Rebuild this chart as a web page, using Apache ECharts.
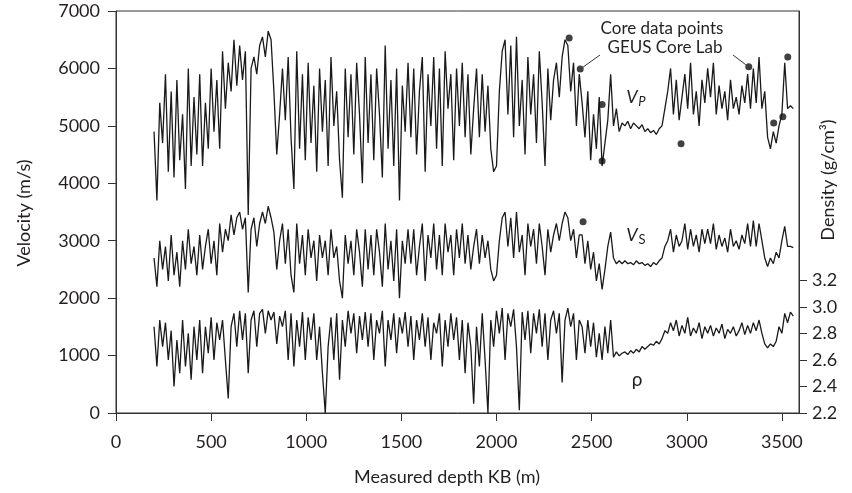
<!DOCTYPE html>
<html>
<head>
<meta charset="utf-8">
<script src="https://cdn.jsdelivr.net/npm/echarts@6/dist/echarts.min.js"></script>
<style>
  html, body { margin: 0; padding: 0; background: #fff; }
  #chart { width: 852px; height: 493px; }
</style>
</head>
<body>
<div id="chart"></div>
<script>
// depth sampling of the logs (m, KB), every 15 m from 200 to 3560
const depthStart = 200;
const depthStep = 15;

// P-wave velocity (m/s), one row = 15 samples
const vp = [
  4900, 3700, 5400, 4700, 5900, 4200, 5600, 4100, 5800, 4400, 5200, 3900, 6000, 4300, 5500,
  4500, 5900, 4300, 5400, 4600, 6000, 4900, 5800, 4600, 6300, 5300, 6100, 5600, 6500, 5700,
  6400, 5800, 6300, 3450, 6000, 6200, 5900, 6400, 6550, 6200, 6650, 6500, 5600, 4500, 5200,
  6000, 5100, 6200, 4800, 3900, 6300, 4600, 5900, 4400, 6100, 4700, 5700, 4200, 6000, 4900,
  5800, 4300, 6200, 5000, 5600, 4400, 3750, 6000, 4800, 5900, 4500, 6100, 5200, 4000, 6200,
  4700, 5900, 4400, 6000, 5200, 4100, 6400, 4600, 5800, 4300, 6000, 3700, 5700, 4900, 6100,
  4800, 6000, 4500, 5600, 6200, 4200, 5900, 5000, 6200, 4600, 6000, 4300, 6300, 5300, 5900,
  4400, 6000, 5000, 6100, 4800, 5900, 4500, 5300, 6000, 4800, 5900, 4900, 5700, 4600, 4200,
  4300, 5600, 6300, 6500, 5200, 6400, 4800, 6550, 5000, 5800, 4500, 6200, 5200, 5900, 4700,
  6300, 5400, 4300, 6000, 5100, 5800, 6100, 5500, 6200, 6500, 6400, 5600, 6100, 5000, 5900,
  5400, 4800, 5600, 4400, 5200, 4600, 5500, 4300, 4700, 5100, 5900, 5000, 5300, 4900, 5050,
  5000, 5080, 4950, 5050, 5000, 4950, 5020, 4900, 4950, 4880, 4920, 4850, 4950, 5000, 5300,
  5600, 6000, 5200, 5800, 5100, 5500, 5900, 5300, 6100, 5200, 5600, 5000, 5800, 5400, 6000,
  5500, 6100, 5200, 5700, 5300, 5600, 5100, 5800, 5300, 5500, 5200, 5700, 5400, 5900, 5300,
  6000, 5400, 6200, 5300, 5600, 4800, 4600, 4900, 4700, 5000, 5200, 6100, 5300, 5350, 5300
];

// S-wave velocity (m/s)
const vs = [
  2700, 2200, 3000, 2500, 2900, 2300, 3100, 2400, 2800, 2200, 3000, 2500, 3200, 2600, 2900,
  2400, 3100, 2500, 2900, 3200, 2600, 3000, 2400, 3300, 2800, 3200, 3000, 3450, 3100, 3400,
  3500, 3200, 3400, 2100, 3200, 3400, 2900, 3300, 3500, 3300, 3600, 3400, 3150, 2500, 3000,
  3300, 2600, 3200, 2400, 2100, 3300, 2600, 3100, 2400, 3200, 2700, 3000, 2300, 3100, 2700,
  3000, 2400, 3200, 2700, 2900, 2300, 2000, 3100, 2600, 3000, 2400, 3200, 2800, 2200, 3200,
  2500, 3100, 2400, 3200, 2800, 2200, 3300, 2500, 3000, 2300, 3200, 2000, 3000, 2600, 3200,
  2600, 3200, 2400, 2900, 3300, 2300, 3100, 2700, 3300, 2500, 3100, 2400, 3300, 2800, 3100,
  2400, 3200, 2700, 3300, 2600, 3100, 2500, 2900, 3200, 2600, 3100, 2700, 3000, 2500, 2300,
  2400, 3000, 3400, 3500, 2900, 3400, 2700, 3500, 2800, 3100, 2400, 3300, 2900, 3200, 2600,
  3300, 2900, 2400, 3200, 2800, 3100, 3300, 3000, 3300, 3500, 3400, 3000, 3200, 2700, 3100,
  3100, 2600, 3000, 2500, 2800, 2300, 2600, 2150, 2500, 2900, 3150, 2700, 2600, 2650, 2600,
  2650, 2600, 2620, 2580, 2650, 2600, 2620, 2570, 2600, 2550, 2620, 2580, 2650, 2700, 2900,
  3000, 3200, 2800, 3100, 2900, 3000, 3300, 2850, 3200, 2900, 3100, 2800, 3200, 2950, 3200,
  2950, 3300, 2850, 3100, 2900, 3050, 2800, 3200, 2900, 3000, 2850, 3100, 2950, 3300, 2900,
  3350, 2900, 3300, 3000, 2700, 2550, 2700, 2600, 2800, 2700, 3000, 3250, 2900, 2900, 2880
];

// bulk density (g/cm3)
const rho = [
  2.85, 2.55, 2.90, 2.70, 2.88, 2.60, 2.82, 2.40, 2.75, 2.50, 2.90, 2.55, 2.80, 2.45, 2.85,
  2.60, 2.90, 2.50, 2.85, 2.65, 2.92, 2.60, 2.88, 2.75, 2.90, 2.60, 2.31, 2.85, 2.95, 2.70,
  2.97, 2.75, 2.95, 2.50, 2.90, 2.97, 2.70, 2.95, 2.98, 2.80, 2.97, 2.90, 2.96, 2.72, 2.93,
  2.85, 2.97, 2.60, 2.95, 2.55, 2.90, 2.70, 2.96, 2.60, 2.92, 2.75, 2.95, 2.60, 2.85, 2.50,
  2.20, 2.70, 2.92, 2.60, 2.95, 2.45, 2.90, 2.70, 2.97, 2.80, 2.95, 2.65, 2.93, 2.75, 2.96,
  2.70, 2.95, 2.60, 2.90, 2.80, 2.97, 2.55, 2.90, 2.75, 2.95, 2.65, 2.92, 2.80, 2.96, 2.70,
  2.93, 2.60, 2.90, 2.75, 2.95, 2.70, 2.92, 2.60, 2.88, 2.80, 2.95, 2.55, 2.90, 2.70, 2.95,
  2.75, 2.92, 2.60, 2.90, 2.50, 2.88, 2.70, 2.27, 2.85, 2.55, 2.95, 2.60, 2.20, 2.90, 2.70,
  2.97, 2.80, 2.99, 2.60, 2.95, 2.85, 2.98, 2.70, 2.22, 2.96, 2.75, 2.97, 2.65, 2.95, 2.80,
  2.98, 2.70, 2.95, 2.60, 2.90, 2.97, 2.80, 2.95, 2.43, 2.90, 2.99, 2.85, 2.95, 2.60, 2.90,
  2.85, 2.65, 2.90, 2.70, 2.88, 2.62, 2.80, 2.60, 2.85, 2.65, 2.90, 2.62, 2.66, 2.63, 2.65,
  2.66, 2.64, 2.67, 2.65, 2.68, 2.66, 2.70, 2.68, 2.70, 2.72, 2.71, 2.74, 2.72, 2.76, 2.82,
  2.80, 2.88, 2.82, 2.90, 2.78, 2.86, 2.80, 2.92, 2.78, 2.84, 2.80, 2.88, 2.76, 2.85, 2.80,
  2.86, 2.78, 2.84, 2.80, 2.87, 2.76, 2.83, 2.80, 2.85, 2.78, 2.82, 2.88, 2.79, 2.86, 2.80,
  2.88, 2.82, 2.90, 2.80, 2.72, 2.69, 2.72, 2.70, 2.74, 2.85, 2.80, 2.95, 2.88, 2.96, 2.93
];

// core plug measurements, GEUS Core Lab
const coreDepth = [2382, 2440, 2555, 2555, 2970, 3326, 3531, 3457, 3505, 2455];
const coreVel   = [6530, 5990, 5370, 4390, 4690, 6030, 6200, 5050, 5160, 3330];

const densTicks = [2.2, 2.4, 2.6, 2.8, 3.0, 3.2];

const depths = vp.map((_, i) => depthStart + i * depthStep);
const ink = '#231f20';
const axisCol = '#333';
const font = 'Lato';
const fs = 18;

const chart = echarts.init(document.getElementById('chart'));

const logLine = (name, vals, yIdx) => ({
	name: name,
	type: 'line',
	yAxisIndex: yIdx,
	data: vals.map((v, i) => [depths[i], v]),
	symbol: 'none',
	lineStyle: {color: '#1a1a1a', width: 1.3},
	z: 2
});

chart.setOption({
	animation: false,
	textStyle: {fontFamily: font, color: ink},
	grid: {left: 116, right: 53, top: 11, bottom: 80, show: true, borderColor: axisCol, borderWidth: 1},
	xAxis: {
		type: 'value', min: 0, max: 3590, interval: 500,
		axisLine: {show: true, lineStyle: {color: axisCol}},
		axisTick: {show: true, length: 8, lineStyle: {color: axisCol}},
		axisLabel: {fontSize: fs, color: ink, margin: 20, showMaxLabel: false, formatter: v => String(v)},
		splitLine: {show: false}
	},
	yAxis: [
		{
			type: 'value', min: 0, max: 7000, interval: 1000, position: 'left',
			axisLine: {show: true, lineStyle: {color: axisCol}},
			axisTick: {show: true, length: 8, lineStyle: {color: axisCol}},
			axisLabel: {fontSize: fs, color: ink, margin: 16, formatter: v => String(v)},
			splitLine: {show: false}
		},
		{
			type: 'value', min: 2.2, max: 5.227, position: 'right',
			axisLine: {show: true, lineStyle: {color: axisCol}},
			axisTick: {show: true, length: 8, customValues: densTicks, lineStyle: {color: axisCol}},
			axisLabel: {fontSize: fs, color: ink, margin: 13, customValues: densTicks, formatter: v => v.toFixed(1)},
			splitLine: {show: false}
		}
	],
	series: [
		logLine('Vp', vp, 0),
		logLine('Vs', vs, 0),
		logLine('rho', rho, 1),
		{
			name: 'core',
			type: 'scatter',
			yAxisIndex: 0,
			data: coreDepth.map((d, i) => [d, coreVel[i]]),
			symbolSize: 7,
			itemStyle: {color: '#111'},
			z: 5
		}
	]
});

// labels and leader lines (leaders end at the core points)
const pA = chart.convertToPixel({seriesIndex: 3}, [coreDepth[1], coreVel[1]]);
const pB = chart.convertToPixel({seriesIndex: 3}, [coreDepth[5], coreVel[5]]);
const txt = (x, y, text, size, extra, rot) => ({
	type: 'text', x: x, y: y, rotation: rot || 0,
	style: Object.assign({text: text, fill: ink, font: size + 'px ' + font, align: 'center', verticalAlign: 'middle'}, extra || {})
});

chart.setOption({
	graphic: [
		txt(24, 213, 'Velocity (m/s)', fs, null, Math.PI / 2),
		txt(828, 180, 'Density (g/cm³)', fs, null, Math.PI / 2),
		txt(447, 477, 'Measured depth KB (m)', fs),
		txt(662, 29, 'Core data points', 17),
		txt(665, 48, 'GEUS Core Lab', 17),
		{type: 'line', shape: {x1: pA[0] + 3, y1: pA[1] - 2, x2: 600, y2: 55}, style: {stroke: axisCol, lineWidth: 1}},
		{type: 'line', shape: {x1: 733, y1: 55, x2: pB[0] - 3, y2: pB[1] - 2}, style: {stroke: axisCol, lineWidth: 1}},
		txt(632, 97, 'V', 18, {font: 'italic 18px ' + font}),
		txt(642, 102, 'P', 13, {font: 'italic 13px ' + font}),
		txt(632, 235, 'V', 18, {font: 'italic 18px ' + font}),
		txt(642, 240, 'S', 13),
		txt(637, 380, 'ρ', 19)
	]
});
</script>
</body>
</html>
